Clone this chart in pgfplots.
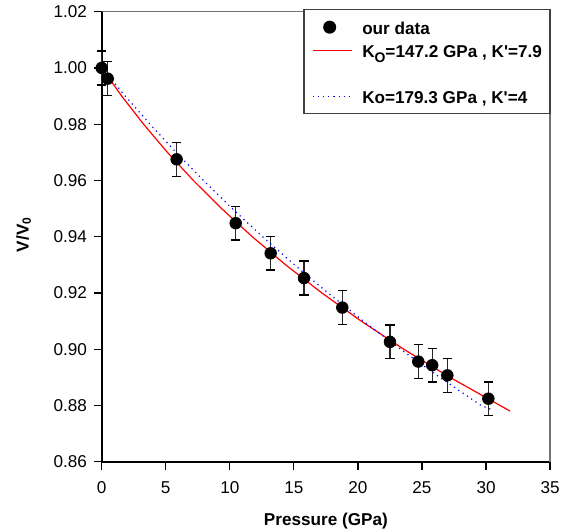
\documentclass[border=0pt]{standalone}
\usepackage{fontspec}
\setmainfont{Liberation Sans}[Ligatures=TeXOff]
\usepackage{pgfplots}
\pgfplotsset{compat=1.18}
\pgfplotsset{shortline legend/.style={legend image code/.code={\draw[##1] (0bp,0bp) -- (19.5bp,0bp);}}}
\newcommand{\subO}{\raisebox{-2.2bp}{\fontsize{7}{8}\selectfont O}}
\begin{document}
\begin{tikzpicture}
\path[use as bounding box] (-50.85bp,-34.65bp) rectangle (232.65bp,230.85bp);
\begin{axis}[
  at={(0,0)}, anchor=south west,
  scale only axis, width=224.2bp, height=225bp,
  xmin=0, xmax=35, ymin=0.86, ymax=1.02,
  xtick={0,5,10,15,20,25,30,35},
  ytick={0.86,0.88,0.90,0.92,0.94,0.96,0.98,1.00,1.02},
  axis x line*=bottom, axis y line*=left,
  axis line style={-, black, line width=0.8bp},
  tick align=outside, major tick length=3.9bp,
  tick style={black, line width=0.6bp},
  /pgf/number format/assume math mode=true,
  tick label style={font=\fontsize{8.6}{10}\selectfont},
  yticklabel style={/pgf/number format/.cd, fixed, fixed zerofill, precision=2},
  xticklabel style={yshift=-2.5bp, /pgf/number format/.cd, fixed, precision=0},
  label style={font=\bfseries\fontsize{8.6}{10}\selectfont},
  xlabel={Pressure (GPa)},
  ylabel={V/V\textsubscript{0}},
  xlabel style={at={(axis description cs:0.5,-0.131)}, anchor=center},
  ylabel style={at={(axis description cs:-0.174,0.505)}, anchor=center},
  clip=false,
  legend cell align=left,
  legend style={at={(rel axis cs:1,1)}, anchor=north east, xshift=0.3bp, yshift=1.35bp,
    draw=black!75, line width=0.7bp, fill=white,
    font=\bfseries\fontsize{8.6}{10}\selectfont,
    inner xsep=4bp, inner ysep=4bp, row sep=2bp,
    nodes={inner sep=0bp, text height=8.6bp, text depth=0.9bp},
    /tikz/every odd column/.append style={column sep=5bp}},
]
\draw[black!55, line width=0.8bp] (rel axis cs:0,1) -- (rel axis cs:1,1) -- (rel axis cs:1,0);

\addplot[only marks, mark=*, mark size=2.9bp, black,
  error bars/.cd, y dir=both, y explicit,
  error bar style={black!85, line width=0.7bp},
  error mark options={rotate=90, mark size=2.3bp, line width=0.7bp, black}]
  table[x=x, y=y, y error=e] {
x y e
0.00 1.0000 0.006
0.47 0.9962 0.006
5.85 0.9675 0.006
10.46 0.9448 0.006
13.19 0.9341 0.006
15.79 0.9253 0.006
18.78 0.9148 0.006
22.50 0.9026 0.006
24.71 0.8956 0.006
25.80 0.8943 0.006
26.98 0.8907 0.006
30.18 0.8824 0.006
};
\addlegendentry{our data}

\addplot[red, line width=0.6bp, no marks, shortline legend]
  coordinates {
(0,1) (1.562,0.99) (3.267,0.98) (5.127,0.97) (7.152,0.96) (9.356,0.95)
(11.752,0.94) (14.355,0.93) (17.182,0.92) (20.249,0.91) (23.575,0.90)
(27.183,0.89) (31.091,0.88) (31.87,0.878)
};
\addlegendentry{K\subO=147.2 GPa , K'=7.9}

\addlegendimage{empty legend}
\addlegendentry{}

\addplot[blue, line width=0.6bp, dotted, no marks, shortline legend]
  coordinates {
(0,1) (1.839,0.99) (3.772,0.98) (5.805,0.97) (7.942,0.96) (10.191,0.95)
(12.557,0.94) (15.046,0.93) (17.666,0.92) (20.424,0.91) (23.327,0.90)
(26.386,0.89) (29.607,0.88) (30.45,0.8785)
};
\addlegendentry{Ko=179.3 GPa , K'=4}
\end{axis}
\end{tikzpicture}
\end{document}
